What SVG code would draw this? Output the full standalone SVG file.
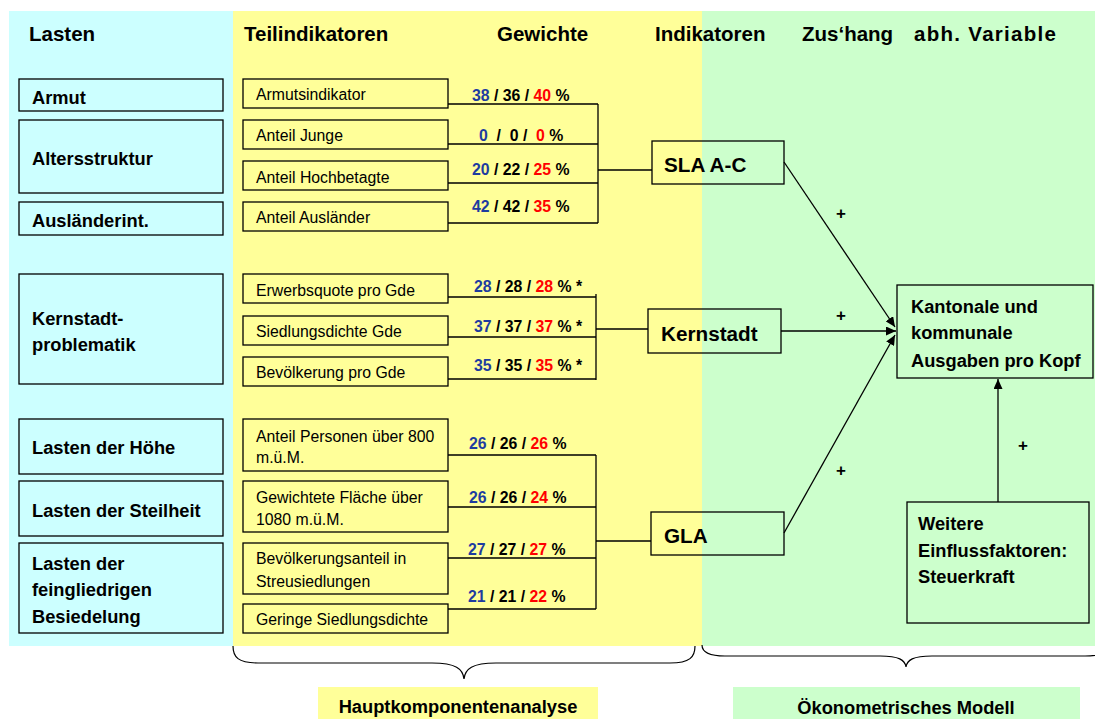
<svg xmlns="http://www.w3.org/2000/svg" width="1095" height="719" viewBox="0 0 1095 719">
<defs>
<style>
text{font-family:"Liberation Sans",Arial,sans-serif;fill:#000}
.hdr{font-weight:bold;font-size:20.5px}
.lab{font-weight:bold;font-size:18.3px}
.sm{font-size:15.8px}
.w{font-weight:bold;font-size:15.8px}
.ind{font-weight:bold;font-size:20.7px}
.plus{font-weight:bold;font-size:17px}
.bl{fill:#1E3CA0}
.rd{fill:#FF0000}
.box{stroke:#000;stroke-width:1.3}
.cy{fill:#CCFFFF}
.ye{fill:#FFFF99}
.gr{fill:#CCFFCC}
.nf{fill:none}
.ln{stroke:#000;stroke-width:1.3;fill:none}
.br{stroke:#000;stroke-width:1.2;fill:none}
</style>
<marker id="arr" markerUnits="userSpaceOnUse" markerWidth="10" markerHeight="9" refX="10" refY="4.5" orient="auto">
<path d="M0,0 L10,4.5 L0,9 z" fill="#000"/>
</marker>
</defs>

<g id="backgrounds">
<rect x="9" y="11" width="224" height="635" class="cy"/>
<rect x="233" y="11" width="469" height="635" class="ye"/>
<rect x="702" y="11" width="393" height="635" class="gr"/>
</g>

<g id="headers">
<text class="hdr" x="29" y="41">Lasten</text>
<text class="hdr" x="244" y="41">Teilindikatoren</text>
<text class="hdr" x="497" y="41">Gewichte</text>
<text class="hdr" x="655" y="41">Indikatoren</text>
<text class="hdr" x="802" y="41">Zus‘hang</text>
<text class="hdr" x="914" y="41" textLength="142">abh. Variable</text>
</g>

<g id="connectors">
<path class="ln" d="M448,104 H598 M448,144 H598 M448,183 H598 M448,223 H598 M598,104 V223 M598,170 H652"/>
<path class="ln" d="M448,297 H596 M448,337 H596 M448,379 H596 M596,294 V380 M596,329 H648"/>
<path class="ln" d="M448,455 H596 M448,507 H596 M448,558 H596 M448,609 H596 M596,455 V609 M596,541 H651"/>
<line class="ln" x1="784" y1="162" x2="895" y2="327" marker-end="url(#arr)"/>
<line class="ln" x1="781" y1="331" x2="896" y2="331" marker-end="url(#arr)"/>
<line class="ln" x1="784" y1="533" x2="895" y2="335" marker-end="url(#arr)"/>
<line class="ln" x1="998" y1="502" x2="998" y2="379" marker-end="url(#arr)"/>
<text class="plus" x="841" y="219" text-anchor="middle">+</text>
<text class="plus" x="841" y="321" text-anchor="middle">+</text>
<text class="plus" x="841" y="476" text-anchor="middle">+</text>
<text class="plus" x="1023" y="451" text-anchor="middle">+</text>
</g>

<g id="weights">
<text class="w" x="472" y="101"><tspan class="bl">38</tspan> / 36 / <tspan class="rd">40</tspan> %</text>
<text class="w" x="479" y="141" xml:space="preserve"><tspan class="bl">0</tspan>  /  0 /  <tspan class="rd">0</tspan> %</text>
<text class="w" x="472" y="175"><tspan class="bl">20</tspan> / 22 / <tspan class="rd">25</tspan> %</text>
<text class="w" x="472" y="212"><tspan class="bl">42</tspan> / 42 / <tspan class="rd">35</tspan> %</text>
<text class="w" x="474" y="292"><tspan class="bl">28</tspan> / 28 / <tspan class="rd">28</tspan> % *</text>
<text class="w" x="474" y="332"><tspan class="bl">37</tspan> / 37 / <tspan class="rd">37</tspan> % *</text>
<text class="w" x="474" y="371"><tspan class="bl">35</tspan> / 35 / <tspan class="rd">35</tspan> % *</text>
<text class="w" x="469" y="449"><tspan class="bl">26</tspan> / 26 / <tspan class="rd">26</tspan> %</text>
<text class="w" x="469" y="503"><tspan class="bl">26</tspan> / 26 / <tspan class="rd">24</tspan> %</text>
<text class="w" x="468" y="555"><tspan class="bl">27</tspan> / 27 / <tspan class="rd">27</tspan> %</text>
<text class="w" x="468" y="602"><tspan class="bl">21</tspan> / 21 / <tspan class="rd">22</tspan> %</text>
</g>

<g id="l-armut"><rect x="19" y="79" width="204" height="32" class="box cy"/><text class="lab" x="32" y="104">Armut</text></g>
<g id="l-alter"><rect x="19" y="120" width="204" height="73" class="box cy"/><text class="lab" x="32" y="165">Altersstruktur</text></g>
<g id="l-ausl"><rect x="19" y="202" width="204" height="33" class="box cy"/><text class="lab" x="32" y="227">Ausländerint.</text></g>
<g id="l-kern"><rect x="19" y="274" width="204" height="110" class="box cy"/><text class="lab" x="32" y="325">Kernstadt-</text><text class="lab" x="32" y="351">problematik</text></g>
<g id="l-hoehe"><rect x="19" y="419" width="204" height="55" class="box cy"/><text class="lab" x="32" y="454">Lasten der Höhe</text></g>
<g id="l-steil"><rect x="19" y="481" width="204" height="55" class="box cy"/><text class="lab" x="32" y="517">Lasten der Steilheit</text></g>
<g id="l-fein"><rect x="19" y="543" width="204" height="90" class="box cy"/><text class="lab" x="32" y="570">Lasten der</text><text class="lab" x="32" y="596">feingliedrigen</text><text class="lab" x="32" y="623">Besiedelung</text></g>

<g id="t-armut"><rect x="243" y="79" width="205" height="29" class="box ye"/><text class="sm" x="256" y="100">Armutsindikator</text></g>
<g id="t-junge"><rect x="243" y="120" width="205" height="29" class="box ye"/><text class="sm" x="256" y="141">Anteil Junge</text></g>
<g id="t-hoch"><rect x="243" y="161" width="205" height="29" class="box ye"/><text class="sm" x="256" y="183">Anteil Hochbetagte</text></g>
<g id="t-ausl"><rect x="243" y="202" width="205" height="29" class="box ye"/><text class="sm" x="256" y="223">Anteil Ausländer</text></g>
<g id="t-erwerb"><rect x="243" y="274" width="205" height="29" class="box ye"/><text class="sm" x="256" y="296">Erwerbsquote pro Gde</text></g>
<g id="t-sied"><rect x="243" y="316" width="205" height="29" class="box ye"/><text class="sm" x="256" y="337">Siedlungsdichte Gde</text></g>
<g id="t-bev"><rect x="243" y="357" width="205" height="29" class="box ye"/><text class="sm" x="256" y="378">Bevölkerung pro Gde</text></g>
<g id="t-pers"><rect x="243" y="419" width="205" height="52" class="box ye"/><text class="sm" x="256" y="442">Anteil Personen über 800</text><text class="sm" x="256" y="463">m.ü.M.</text></g>
<g id="t-flaeche"><rect x="243" y="481" width="205" height="51" class="box ye"/><text class="sm" x="256" y="503">Gewichtete Fläche über</text><text class="sm" x="256" y="525">1080 m.ü.M.</text></g>
<g id="t-streu"><rect x="243" y="543" width="205" height="51" class="box ye"/><text class="sm" x="256" y="564">Bevölkerungsanteil in</text><text class="sm" x="256" y="587">Streusiedlungen</text></g>
<g id="t-gering"><rect x="243" y="604" width="205" height="29" class="box ye"/><text class="sm" x="256" y="625">Geringe Siedlungsdichte</text></g>

<g id="i-sla"><rect x="652" y="141" width="132" height="43" class="box nf"/><text class="ind" x="664" y="172">SLA A-C</text></g>
<g id="i-kern"><rect x="648" y="309" width="133" height="44" class="box nf"/><text class="ind" x="661" y="341">Kernstadt</text></g>
<g id="i-gla"><rect x="651" y="512" width="133" height="43" class="box nf"/><text class="ind" x="664" y="543">GLA</text></g>

<g id="target"><rect x="897" y="285" width="196" height="93" class="box gr"/><text class="lab" x="911" y="313">Kantonale und</text><text class="lab" x="911" y="339">kommunale</text><text class="lab" x="911" y="367">Ausgaben pro Kopf</text></g>
<g id="weitere"><rect x="907" y="502" width="182" height="121" class="box gr"/><text class="lab" x="918" y="530">Weitere</text><text class="lab" x="918" y="557">Einflussfaktoren:</text><text class="lab" x="918" y="583">Steuerkraft</text></g>

<g id="braces">
<path class="br" d="M233,646 C233,657 238,663 258,663 L432,663 C456,663 463,669 464,679 C465,669 472,663 496,663 L670,663 C690,663 695,657 695,646"/>
<path class="br" d="M702,645 C702,652 708,656 725,656 L880,656 C899,656 905,660 906,667 C907,660 913,656 932,656 L1085,656 C1102,656 1108,652 1108,645"/>
</g>

<g id="pca-label"><rect x="318" y="687" width="280" height="32" class="ye"/><text class="lab" x="458" y="713" text-anchor="middle">Hauptkomponentenanalyse</text></g>
<g id="eco-label"><rect x="733" y="687" width="347" height="32" class="gr"/><text class="lab" x="906" y="714" text-anchor="middle">Ökonometrisches Modell</text></g>
</svg>
